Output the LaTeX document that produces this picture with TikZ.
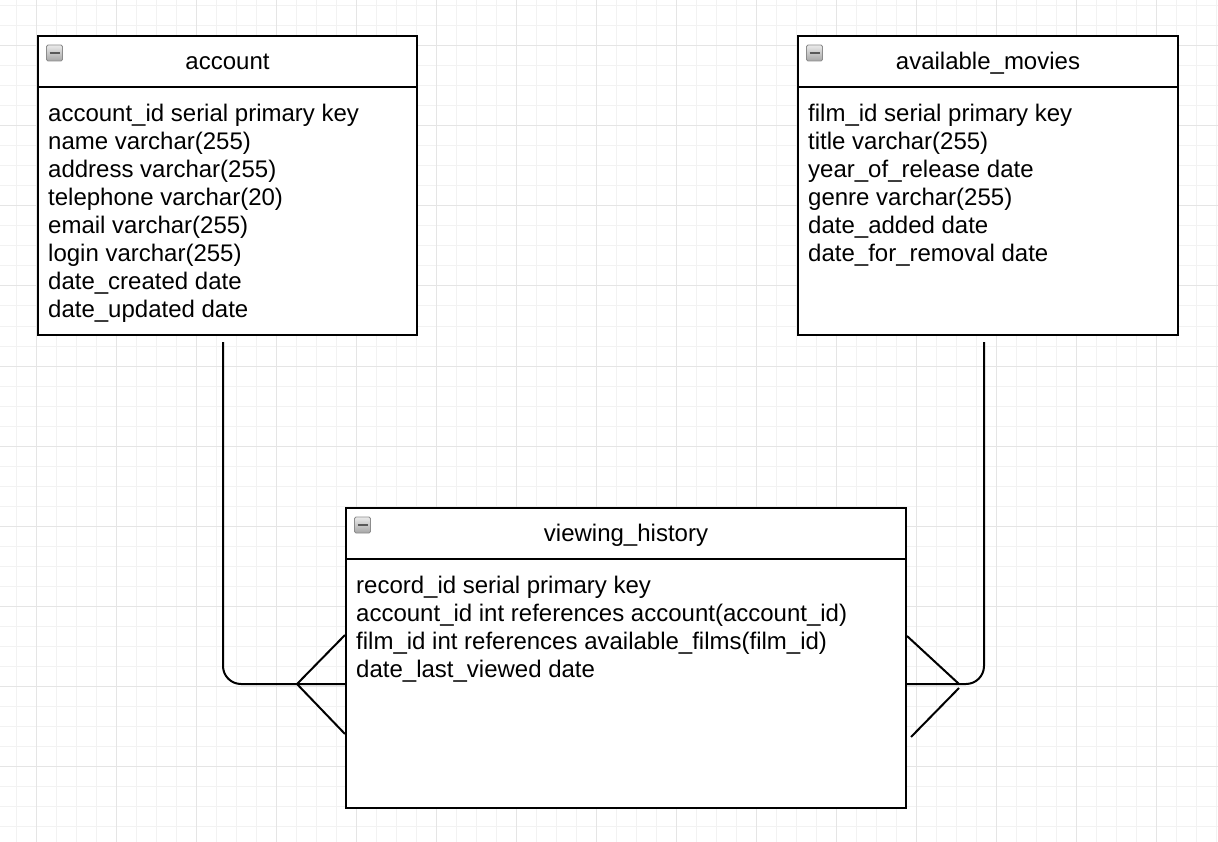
\documentclass[tikz,border=0pt]{standalone}
\usepackage{fontspec}
\setmainfont{Liberation Sans}
\usetikzlibrary{calc}
\begin{document}
\begin{tikzpicture}[x=1pt,y=-1pt,
  minorgrid/.style={draw=black!5,line width=1pt},
  majorgrid/.style={draw=black!10,line width=1pt},
  tablebox/.style={draw=black,line width=2pt,fill=white,anchor=north west,inner sep=0pt},
  divider/.style={draw=black,line width=2pt},
  iconbox/.style={draw=black!45,line width=0.8pt,rounded corners=1.5pt,top color=black!8,bottom color=black!35,minimum width=16pt,minimum height=16pt,inner sep=0pt},
  iconminus/.style={draw=black!65,line width=2.2pt},
  title/.style={anchor=base,inner sep=0pt,font=\fontsize{24}{28}\selectfont},
  field/.style={anchor=base west,inner sep=0pt,font=\fontsize{24}{28}\selectfont},
  conn/.style={draw=black,line width=2pt,rounded corners=18pt},
  foot/.style={draw=black,line width=2pt}]
\useasboundingbox (0,0) rectangle (1218,842);
\fill[white] (0,0) rectangle (1218,842);
% grid
\foreach \i in {0,...,60} {\draw[minorgrid] ({16.7+20*\i},0) -- ({16.7+20*\i},842);}
\foreach \i in {0,...,42} {\draw[minorgrid] (0,{6+20*\i}) -- (1218,{6+20*\i});}
\foreach \i in {0,...,15} {\draw[majorgrid] ({36.7+80*\i},0) -- ({36.7+80*\i},842);}
\foreach \i in {0,...,10} {\draw[majorgrid] (0,{46+80*\i}) -- (1218,{46+80*\i});}

% account
\node[tablebox,minimum width=379pt,minimum height=299pt] (acc) at (37,35) {};
\draw[divider] ([yshift=-52pt]acc.north west) -- ([yshift=-52pt]acc.north east);
\node[iconbox] (acci) at ([xshift=17.5pt,yshift=-18pt]acc.north west) {};
\draw[iconminus] ([xshift=-5pt]acci.center) -- ([xshift=5pt]acci.center);
\node[title] (acct) at ([yshift=-34.5pt]acc.north) {account};
\node[field] (acc1) at ([xshift=11pt,yshift=-86.5pt]acc.north west) {account\_id serial primary key};
\node[field] (acc2) at ([yshift=-28pt]acc1.base west) {name varchar(255)};
\node[field] (acc3) at ([yshift=-28pt]acc2.base west) {address varchar(255)};
\node[field] (acc4) at ([yshift=-28pt]acc3.base west) {telephone varchar(20)};
\node[field] (acc5) at ([yshift=-28pt]acc4.base west) {email varchar(255)};
\node[field] (acc6) at ([yshift=-28pt]acc5.base west) {login varchar(255)};
\node[field] (acc7) at ([yshift=-28pt]acc6.base west) {date\_created date};
\node[field] (acc8) at ([yshift=-28pt]acc7.base west) {date\_updated date};

% available_movies
\node[tablebox,minimum width=380pt,minimum height=299pt] (am) at (797,35) {};
\draw[divider] ([yshift=-52pt]am.north west) -- ([yshift=-52pt]am.north east);
\node[iconbox] (ami) at ([xshift=17.5pt,yshift=-18pt]am.north west) {};
\draw[iconminus] ([xshift=-5pt]ami.center) -- ([xshift=5pt]ami.center);
\node[title] (amt) at ([yshift=-34.5pt]am.north) {available\_movies};
\node[field] (am1) at ([xshift=11pt,yshift=-86.5pt]am.north west) {film\_id serial primary key};
\node[field] (am2) at ([yshift=-28pt]am1.base west) {title varchar(255)};
\node[field] (am3) at ([yshift=-28pt]am2.base west) {year\_of\_release date};
\node[field] (am4) at ([yshift=-28pt]am3.base west) {genre varchar(255)};
\node[field] (am5) at ([yshift=-28pt]am4.base west) {date\_added date};
\node[field] (am6) at ([yshift=-28pt]am5.base west) {date\_for\_removal date};

% viewing_history
\node[tablebox,minimum width=560pt,minimum height=300pt] (vh) at (345,507) {};
\draw[divider] ([yshift=-52pt]vh.north west) -- ([yshift=-52pt]vh.north east);
\node[iconbox] (vhi) at ([xshift=17.5pt,yshift=-18pt]vh.north west) {};
\draw[iconminus] ([xshift=-5pt]vhi.center) -- ([xshift=5pt]vhi.center);
\node[title] (vht) at ([yshift=-34.5pt]vh.north) {viewing\_history};
\node[field] (vh1) at ([xshift=11pt,yshift=-86pt]vh.north west) {record\_id serial primary key};
\node[field] (vh2) at ([yshift=-28pt]vh1.base west) {account\_id int references account(account\_id)};
\node[field] (vh3) at ([yshift=-28pt]vh2.base west) {film\_id int references available\_films(film\_id)};
\node[field] (vh4) at ([yshift=-28pt]vh3.base west) {date\_last\_viewed date};

% connector account -> viewing_history
\coordinate (l1) at ([xshift=-4.5pt,yshift=-6pt]acc.south);
\coordinate (lj) at ([yshift=-26pt]vh.west);
\draw[conn] (l1) |- (lj);
\coordinate (lf) at ([xshift=-48pt]lj);
\draw[foot] (lf) -- ([yshift=49pt]lj);
\draw[foot] (lf) -- ([yshift=-50pt]lj);

% connector available_movies -> viewing_history
\coordinate (r1) at ([xshift=-4pt,yshift=-6pt]am.south);
\coordinate (rj) at ([yshift=-26pt]vh.east);
\draw[conn] (r1) |- (rj);
\coordinate (rf) at ([xshift=52pt]rj);
\draw[foot] (rf) -- ([yshift=48pt]rj);
\draw[foot] ([yshift=-4pt]rf) -- ([xshift=4pt,yshift=-53pt]rj);
\end{tikzpicture}
\end{document}
